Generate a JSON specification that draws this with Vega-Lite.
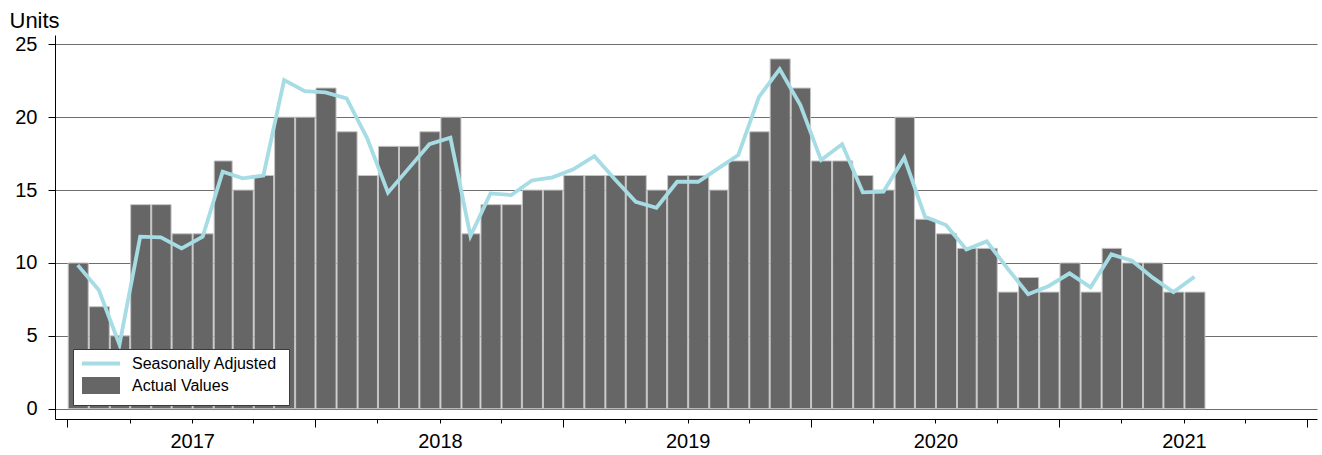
{
  "$schema": "https://vega.github.io/schema/vega-lite/v6.json",
  "width": 1262,
  "height": 384,
  "autosize": "none",
  "padding": {"left": 55, "top": 35, "right": 5, "bottom": 36},
  "background": "white",
  "config": {
    "view": {"stroke": null},
    "font": "Liberation Sans",
    "axis": {"labelFont": "Liberation Sans", "labelColor": "black", "domainColor": "black", "tickColor": "black", "domainWidth": 1, "tickWidth": 1}
  },
  "data": {
    "values": [
      {"date": "2016-07-15", "actual": 10, "sa": 9.85},
      {"date": "2016-08-15", "actual": 7, "sa": 8.14},
      {"date": "2016-09-15", "actual": 5, "sa": 4.4},
      {"date": "2016-10-15", "actual": 14, "sa": 11.8},
      {"date": "2016-11-15", "actual": 14, "sa": 11.75},
      {"date": "2016-12-15", "actual": 12, "sa": 11.0},
      {"date": "2017-01-15", "actual": 12, "sa": 11.8},
      {"date": "2017-02-15", "actual": 17, "sa": 16.26},
      {"date": "2017-03-15", "actual": 15, "sa": 15.8},
      {"date": "2017-04-15", "actual": 16, "sa": 16.0},
      {"date": "2017-05-15", "actual": 20, "sa": 22.55},
      {"date": "2017-06-15", "actual": 20, "sa": 21.79},
      {"date": "2017-07-15", "actual": 22, "sa": 21.7},
      {"date": "2017-08-15", "actual": 19, "sa": 21.29},
      {"date": "2017-09-15", "actual": 16, "sa": 18.54},
      {"date": "2017-10-15", "actual": 18, "sa": 14.82},
      {"date": "2017-11-15", "actual": 18, "sa": 16.49},
      {"date": "2017-12-15", "actual": 19, "sa": 18.15},
      {"date": "2018-01-15", "actual": 20, "sa": 18.59},
      {"date": "2018-02-15", "actual": 12, "sa": 11.85},
      {"date": "2018-03-15", "actual": 14, "sa": 14.77},
      {"date": "2018-04-15", "actual": 14, "sa": 14.66},
      {"date": "2018-05-15", "actual": 15, "sa": 15.66},
      {"date": "2018-06-15", "actual": 15, "sa": 15.87},
      {"date": "2018-07-15", "actual": 16, "sa": 16.42},
      {"date": "2018-08-15", "actual": 16, "sa": 17.33},
      {"date": "2018-09-15", "actual": 16, "sa": 15.73},
      {"date": "2018-10-15", "actual": 16, "sa": 14.2},
      {"date": "2018-11-15", "actual": 15, "sa": 13.79},
      {"date": "2018-12-15", "actual": 16, "sa": 15.57},
      {"date": "2019-01-15", "actual": 16, "sa": 15.57},
      {"date": "2019-02-15", "actual": 15, "sa": 16.49},
      {"date": "2019-03-15", "actual": 17, "sa": 17.4},
      {"date": "2019-04-15", "actual": 19, "sa": 21.4},
      {"date": "2019-05-15", "actual": 24, "sa": 23.3},
      {"date": "2019-06-15", "actual": 22, "sa": 20.83},
      {"date": "2019-07-15", "actual": 17, "sa": 17.06},
      {"date": "2019-08-15", "actual": 17, "sa": 18.15},
      {"date": "2019-09-15", "actual": 16, "sa": 14.84},
      {"date": "2019-10-15", "actual": 15, "sa": 14.9},
      {"date": "2019-11-15", "actual": 20, "sa": 17.22},
      {"date": "2019-12-15", "actual": 13, "sa": 13.17},
      {"date": "2020-01-15", "actual": 12, "sa": 12.6},
      {"date": "2020-02-15", "actual": 11, "sa": 10.93},
      {"date": "2020-03-15", "actual": 11, "sa": 11.48},
      {"date": "2020-04-15", "actual": 8, "sa": 9.63},
      {"date": "2020-05-15", "actual": 9, "sa": 7.85},
      {"date": "2020-06-15", "actual": 8, "sa": 8.42},
      {"date": "2020-07-15", "actual": 10, "sa": 9.29},
      {"date": "2020-08-15", "actual": 8, "sa": 8.33},
      {"date": "2020-09-15", "actual": 11, "sa": 10.59},
      {"date": "2020-10-15", "actual": 10, "sa": 10.15},
      {"date": "2020-11-15", "actual": 10, "sa": 8.99},
      {"date": "2020-12-15", "actual": 8, "sa": 8.0},
      {"date": "2021-01-15", "actual": 8, "sa": 9.05}
    ]
  },
  "encoding": {
    "x": {
      "field": "date",
      "type": "temporal",
      "timeUnit": "yearmonth",
      "scale": {"domain": [{"year": 2016, "month": 6, "date": 13}, {"year": 2021, "month": 7, "date": 16}]},
      "axis": {
        "title": null,
        "grid": false,
        "values": [
          {"year": 2016, "month": 7, "date": 1}, {"year": 2016, "month": 10, "date": 1},
          {"year": 2017, "month": 1, "date": 1}, {"year": 2017, "month": 4, "date": 1},
          {"year": 2017, "month": 7, "date": 1}, {"year": 2017, "month": 10, "date": 1},
          {"year": 2018, "month": 1, "date": 1}, {"year": 2018, "month": 4, "date": 1},
          {"year": 2018, "month": 7, "date": 1}, {"year": 2018, "month": 10, "date": 1},
          {"year": 2019, "month": 1, "date": 1}, {"year": 2019, "month": 4, "date": 1},
          {"year": 2019, "month": 7, "date": 1}, {"year": 2019, "month": 10, "date": 1},
          {"year": 2020, "month": 1, "date": 1}, {"year": 2020, "month": 4, "date": 1},
          {"year": 2020, "month": 7, "date": 1}, {"year": 2020, "month": 10, "date": 1},
          {"year": 2021, "month": 1, "date": 1}, {"year": 2021, "month": 4, "date": 1},
          {"year": 2021, "month": 7, "date": 1}
        ],
        "labelExpr": "month(datum.value) == 0 ? timeFormat(datum.value, '%Y') : ''",
        "labelFontSize": 20,
        "labelOverlap": false,
        "labelFlush": false,
        "tickSize": {"condition": {"test": "month(datum.value) == 6", "value": 8}, "value": 4},
        "labelPadding": 8
      }
    }
  },
  "layer": [
    {
      "mark": {"type": "bar"},
      "encoding": {
        "y": {
          "field": "actual",
          "type": "quantitative",
          "scale": {"domain": [-0.707, 25.64], "nice": false, "zero": false},
          "axis": {
            "title": "Units",
            "titleAngle": 0,
            "titleAlign": "left",
            "titleBaseline": "alphabetic",
            "titleX": -46,
            "titleY": -8,
            "titleFontSize": 22,
            "titleFontWeight": "normal",
            "titleFont": "Liberation Sans",
            "titleColor": "black",
            "values": [0, 2.5, 5, 7.5, 10, 12.5, 15, 17.5, 20, 22.5, 25],
            "labelExpr": "datum.value % 5 == 0 ? format(datum.value, 'd') : ''",
            "labelFontSize": 20,
            "labelOverlap": false,
            "labelPadding": 11,
            "tickSize": {"condition": {"test": "datum.value % 5 == 0", "value": 7}, "value": -4},
            "grid": true,
            "gridColor": "#6e6e6e",
            "gridWidth": 1,
            "gridOpacity": {"condition": {"test": "datum.value % 5 == 0", "value": 1}, "value": 0}
          }
        },
        "y2": {"datum": 0},
        "color": {
          "datum": "Actual Values",
          "scale": {"domain": ["Seasonally Adjusted", "Actual Values"], "range": ["#a6dce4", "#666666"]},
          "legend": {
            "title": " ",
            "titleOrient": "right",
            "titlePadding": 8,
            "titleFontSize": 5,
            "orient": "none",
            "legendX": 18,
            "legendY": 314,
            "padding": 4,
            "rowPadding": -2,
            "fillColor": "white",
            "strokeColor": "#3a3a3a",
            "labelFont": "Liberation Sans",
            "labelFontSize": 16,
            "labelColor": "black",
            "symbolSize": 289,
            "symbolOffset": 13.5,
            "labelOffset": 20.5,
            "symbolOpacity": 1,
            "symbolStrokeWidth": 4,
            "symbolType": {"expr": "datum.value === 'Actual Values' ? 'M-2,-0.765H2V0.765H-2Z' : 'M-2.235,0H2.235'"},
            "symbolStrokeColor": {"expr": "datum.value === 'Actual Values' ? '#666666' : '#a6dce4'"}
          }
        }
      }
    },
    {
      "mark": {"type": "bar", "filled": false, "stroke": "#c4c4c4", "strokeWidth": 1},
      "encoding": {
        "y": {"field": "actual", "type": "quantitative"},
        "y2": {"datum": 0}
      }
    },
    {
      "mark": {"type": "line", "strokeWidth": 3.8},
      "encoding": {
        "x": {"field": "date", "type": "temporal", "timeUnit": "yearmonth", "bandPosition": 0.5},
        "y": {"field": "sa", "type": "quantitative"},
        "color": {"datum": "Seasonally Adjusted", "legend": null}
      }
    }
  ]
}
